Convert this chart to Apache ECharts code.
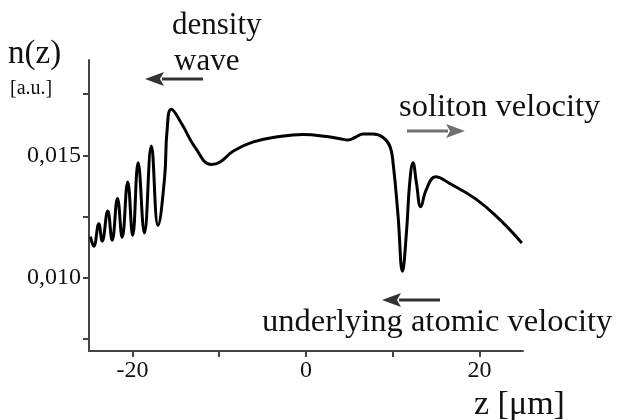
<!DOCTYPE html>
<html>
<head>
<meta charset="utf-8">
<script src="https://cdn.jsdelivr.net/npm/echarts@6/dist/echarts.min.js"></script>
<style>
  html, body { margin: 0; padding: 0; background: #fff; }
  #main { width: 617px; height: 420px; }
</style>
</head>
<body>
<div id="main"></div>
<script>
// z position [µm] and density n(z) [a.u.]
var zValues = [
  -24.83, -24.45, -23.87, -23.48, -22.84, -22.33, -21.72, -21.18, -20.54, -19.97,
  -19.34, -18.62, -17.82, -17.05, -16.29, -16.01, -15.52, -14.29, -12.76, -10.92,
  -9.89, -8.36, -6.06, -2.99, -0.31, 2.38, 3.91, 4.86, 5.63, 6.59,
  7.74, 8.89, 9.66, 10.03, 10.61, 11.11, 11.57, 11.95, 12.33, 12.72,
  13.22, 13.87, 14.94, 16.55, 19.62, 22.30, 24.86
];
var nValues = [
  0.01168, 0.01128, 0.01220, 0.01149, 0.01272, 0.01153, 0.01324, 0.01165, 0.01391, 0.01173,
  0.01470, 0.01183, 0.01538, 0.01214, 0.01409, 0.01600, 0.01689, 0.01627, 0.01532, 0.01463,
  0.01473, 0.01518, 0.01555, 0.01577, 0.01585, 0.01577, 0.01568, 0.01563, 0.01573, 0.01587,
  0.01587, 0.01573, 0.01538, 0.01470, 0.01251, 0.01026, 0.01183, 0.01388, 0.01470, 0.01388,
  0.01290, 0.01361, 0.01413, 0.01385, 0.01320, 0.01238, 0.01142
];

var xTicks = [-20, -10, 0, 10, 20];
var xLabels = [-20, 0, 20];
var yTicks = [0.0075, 0.0100, 0.0125, 0.0150, 0.0175];
var yLabels = [0.010, 0.015];

var serif = '"Liberation Serif", "DejaVu Serif", serif';

var chart = echarts.init(document.getElementById('main'));

var points = zValues.map(function (z, i) { return [z, nValues[i]]; });

function arrow(x1, x2, y, color) {
  // horizontal arrow, head at x2
  var dir = x2 > x1 ? 1 : -1;
  var headLen = 19, headHalf = 7;
  return [
    {
      type: 'line',
      shape: { x1: x1, y1: y, x2: x2 - dir * (headLen - 2), y2: y },
      style: { stroke: color, lineWidth: 3 }
    },
    {
      type: 'polygon',
      shape: { points: [[x2, y], [x2 - dir * headLen, y - headHalf], [x2 - dir * (headLen - 4), y], [x2 - dir * headLen, y + headHalf]] },
      style: { fill: color }
    }
  ];
}

function label(text, x, y, size, color) {
  return {
    type: 'text',
    left: x,
    top: y,
    style: { text: text, font: size + 'px ' + serif, fill: color || '#111' }
  };
}

var option = {
  backgroundColor: '#fff',
  animation: false,
  grid: { left: 89, right: 94, top: 60, bottom: 69 },
  xAxis: {
    type: 'value',
    min: -25,
    max: 25,
    axisLine: { onZero: false, lineStyle: { color: '#444', width: 2 } },
    axisTick: { show: true, length: 6, customValues: xTicks, lineStyle: { color: '#444', width: 2 } },
    axisLabel: {
      customValues: xLabels,
      margin: 8,
      color: '#111',
      fontSize: 24,
      fontFamily: serif,
      formatter: function (v) { return String(v); }
    },
    splitLine: { show: false }
  },
  yAxis: {
    type: 'value',
    min: 0.007,
    max: 0.0189,
    axisLine: { show: true, onZero: false, lineStyle: { color: '#444', width: 2 } },
    axisTick: { show: true, length: 6, customValues: yTicks, lineStyle: { color: '#444', width: 2 } },
    axisLabel: {
      customValues: yLabels,
      margin: 8,
      color: '#111',
      fontSize: 24,
      fontFamily: serif,
      formatter: function (v) { return v.toFixed(3).replace('.', ','); }
    },
    splitLine: { show: false }
  },
  series: [{
    type: 'line',
    data: points,
    smooth: 0.45,
    showSymbol: false,
    lineStyle: { color: '#000', width: 3 }
  }],
  graphic: [
    label('n(z)', 8, 38, 33),
    label('[a.u.]', 10, 79, 20),
    label('density', 172, 10, 31),
    label('wave', 174, 46, 31),
    label('soliton velocity', 399, 91, 32.5),
    label('underlying atomic velocity', 262, 306, 32.5),
    label('z [\u03bcm]', 474, 388, 34)
  ].concat(
    arrow(203, 145, 79, '#333'),
    arrow(407, 465, 131, '#707070'),
    arrow(440, 382, 300, '#333')
  )
};

chart.setOption(option);
</script>
</body>
</html>
